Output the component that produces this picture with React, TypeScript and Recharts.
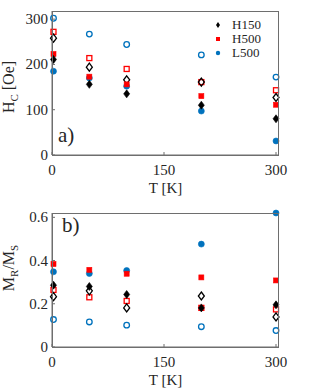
import React from 'react';
import { ScatterChart, Scatter, XAxis, YAxis, Legend } from 'recharts';

// Temperatures (K)
const temperatures = [2, 50, 100, 200, 300];

// Panel a) coercivity H_C [Oe]
const hcH150Filled = [211, 156, 135, 110, 80];
const hcH150Open = [258, 194, 166, 161, 127];
const hcH500Filled = [223, 173, 156, 130, 111];
const hcH500Open = [272, 214, 190, 161, 143];
const hcL500Filled = [185, 170, 152, 97, 31];
const hcL500Open = [302, 267, 244, 221, 172];

// Panel b) squareness M_R/M_S
const mrH150Filled = [0.286, 0.28, 0.243, 0.181, 0.195];
const mrH150Open = [0.233, 0.26, 0.181, 0.236, 0.139];
const mrH500Filled = [0.384, 0.357, 0.339, 0.322, 0.308];
const mrH500Open = [0.264, 0.23, 0.213, 0.181, 0.174];
const mrL500Filled = [0.348, 0.34, 0.354, 0.476, 0.62];
const mrL500Open = [0.127, 0.116, 0.101, 0.094, 0.076];

const xTicks = [0, 150, 300];
const hcTicks = [0, 100, 200, 300];
const mrTicks = [0, 0.2, 0.4, 0.6];
const legendNames = ['H150', 'H500', 'L500'];

const X_DOMAIN: [number, number] = [0, 304];
const HC_DOMAIN: [number, number] = [0, 318];
const MR_DOMAIN: [number, number] = [0, 0.62];

const FONT = "'Liberation Serif', 'Times New Roman', serif";
const AXIS = '#6e6e6e';
const TEXT = '#262626';
const BLACK = '#000000';
const RED = '#ff0000';
const BLUE = '#0072bd';

const toPoints = (ys: number[]) => temperatures.map((x, i) => ({ x, y: ys[i] }));

type Kind = 'diamond' | 'square' | 'circle';

const drawMarker = (kind: Kind, filled: boolean, color: string, cx: number, cy: number) => {
  const fill = filled ? color : 'none';
  const sw = filled ? 0.6 : 1.3;
  if (kind === 'diamond') {
    return (
      <polygon
        points={`${cx},${cy - 4} ${cx + 3},${cy} ${cx},${cy + 4} ${cx - 3},${cy}`}
        fill={filled ? color : 'none'}
        stroke={color}
        strokeWidth={sw}
      />
    );
  }
  if (kind === 'square') {
    return <rect x={cx - 2.5} y={cy - 2.5} width={5} height={5} fill={fill} stroke={color} strokeWidth={sw} />;
  }
  return <circle cx={cx} cy={cy} r={filled ? 3 : 2.8} fill={fill} stroke={color} strokeWidth={sw} />;
};

const shapeFor = (kind: Kind, filled: boolean, color: string) => (props: any) => {
  const { cx, cy } = props;
  if (cx == null || cy == null) return <g />;
  return <g>{drawMarker(kind, filled, color, cx, cy)}</g>;
};

const RotLabel = (props: any) => {
  const { x0, y0, parts } = props;
  return (
    <text
      x={x0}
      y={y0}
      transform={`rotate(-90 ${x0} ${y0})`}
      textAnchor="middle"
      style={{ fontFamily: FONT }}
      fontSize={16}
      fill={TEXT}
    >
      {parts}
    </text>
  );
};

const XLabel = (props: any) => {
  const { viewBox } = props;
  const cx = viewBox.x + viewBox.width / 2;
  return (
    <text x={cx} y={viewBox.y + 38} textAnchor="middle" style={{ fontFamily: FONT }} fontSize={15} fill={TEXT}>
      T [K]
    </text>
  );
};

const XTick = (props: any) => {
  const { x, y, payload } = props;
  return (
    <text x={x} y={y} dy={11} textAnchor="middle" style={{ fontFamily: FONT }} fontSize={15} fill={TEXT}>
      {payload.value}
    </text>
  );
};

const YTick = (props: any) => {
  const { x, y, payload } = props;
  return (
    <text x={x} y={y} dy={5} textAnchor="end" style={{ fontFamily: FONT }} fontSize={15} fill={TEXT}>
      {payload.value}
    </text>
  );
};

const LegendContent = () => (
  <div style={{ fontFamily: FONT, fontSize: 13, color: TEXT }}>
    {legendNames.map((n, i) => {
      const kind: Kind = i === 0 ? 'diamond' : i === 1 ? 'square' : 'circle';
      const color = i === 0 ? BLACK : i === 1 ? RED : BLUE;
      return (
        <div key={n} style={{ height: 14, display: 'flex', alignItems: 'center' }}>
          <svg width={10} height={10} style={{ marginRight: 9 }}>
            {kind === 'diamond' ? (
              <polygon points="5,2 7,5 5,8 3,5" fill={color} />
            ) : kind === 'square' ? (
              <rect x={3} y={3} width={4} height={4} fill={color} />
            ) : (
              <circle cx={5} cy={5} r={2.2} fill={color} />
            )}
          </svg>
          <span style={{ lineHeight: '14px' }}>{n}</span>
        </div>
      );
    })}
  </div>
);

const renderSeries = (
  sets: { data: number[]; kind: Kind; filled: boolean; color: string; name: string }[]
) =>
  sets.map((s, i) => (
    <Scatter
      key={i}
      name={s.name}
      data={toPoints(s.data)}
      shape={shapeFor(s.kind, s.filled, s.color)}
      isAnimationActive={false}
      legendType="none"
    />
  ));

const frameStyle = (top: number, height: number): React.CSSProperties => ({
  position: 'absolute',
  left: 52,
  top,
  width: 227,
  height,
  border: `1px solid ${AXIS}`,
  boxSizing: 'border-box',
  pointerEvents: 'none',
});

export default function App() {
  return (
    <div
      style={{
        position: 'absolute',
        left: 0,
        top: 0,
        width: 310,
        height: 388,
        background: '#fff',
        fontFamily: FONT,
      }}
    >
      <div style={{ position: 'absolute', left: 0, top: 0 }}>
        <ScatterChart width={310} height={196} margin={{ top: 11, right: 31, bottom: 0, left: 0 }}>
          <XAxis
            type="number"
            dataKey="x"
            domain={X_DOMAIN}
            ticks={xTicks}
            height={41}
            tickSize={-3}
            tickMargin={12}
            tick={<XTick />}
            stroke={AXIS}
            label={<XLabel />}
          />
          <YAxis
            type="number"
            dataKey="y"
            domain={HC_DOMAIN}
            ticks={hcTicks}
            width={52}
            tickSize={-3}
            tickMargin={7}
            tick={<YTick />}
            stroke={AXIS}
            label={
              <RotLabel
                x0={14}
                y0={87}
                parts={[
                  <tspan key="a">H</tspan>,
                  <tspan key="b" dy={4} fontSize={11}>C</tspan>,
                  <tspan key="c" dy={-4}> [Oe]</tspan>,
                ]}
              />
            }
          />
          {renderSeries([
            { data: hcL500Open, kind: 'circle', filled: false, color: BLUE, name: 'L500o' },
            { data: hcH500Open, kind: 'square', filled: false, color: RED, name: 'H500o' },
            { data: hcH150Open, kind: 'diamond', filled: false, color: BLACK, name: 'H150o' },
            { data: hcL500Filled, kind: 'circle', filled: true, color: BLUE, name: 'L500' },
            { data: hcH500Filled, kind: 'square', filled: true, color: RED, name: 'H500' },
            { data: hcH150Filled, kind: 'diamond', filled: true, color: BLACK, name: 'H150' },
          ])}
          <Legend
            layout="horizontal"
            verticalAlign="middle"
            align="center"
            content={<LegendContent />}
            wrapperStyle={{ left: 213, top: 18, width: 'auto', height: 'auto' }}
          />
        </ScatterChart>
      </div>
      <div style={{ position: 'absolute', left: 0, top: 196 }}>
        <ScatterChart width={310} height={192} margin={{ top: 17, right: 31, bottom: 0, left: 0 }}>
          <XAxis
            type="number"
            dataKey="x"
            domain={X_DOMAIN}
            ticks={xTicks}
            height={41}
            tickSize={-3}
            tickMargin={12}
            tick={<XTick />}
            stroke={AXIS}
            label={<XLabel />}
          />
          <YAxis
            type="number"
            dataKey="y"
            domain={MR_DOMAIN}
            ticks={mrTicks}
            width={52}
            tickSize={-3}
            tickMargin={7}
            tick={<YTick />}
            stroke={AXIS}
            label={
              <RotLabel
                x0={14}
                y0={72}
                parts={[
                  <tspan key="a">M</tspan>,
                  <tspan key="b" dy={4} fontSize={11}>R</tspan>,
                  <tspan key="c" dy={-4}>/M</tspan>,
                  <tspan key="d" dy={4} fontSize={11}>S</tspan>,
                ]}
              />
            }
          />
          {renderSeries([
            { data: mrL500Open, kind: 'circle', filled: false, color: BLUE, name: 'L500o' },
            { data: mrH500Open, kind: 'square', filled: false, color: RED, name: 'H500o' },
            { data: mrH150Open, kind: 'diamond', filled: false, color: BLACK, name: 'H150o' },
            { data: mrL500Filled, kind: 'circle', filled: true, color: BLUE, name: 'L500' },
            { data: mrH500Filled, kind: 'square', filled: true, color: RED, name: 'H500' },
            { data: mrH150Filled, kind: 'diamond', filled: true, color: BLACK, name: 'H150' },
          ])}
        </ScatterChart>
      </div>
      <div style={frameStyle(11, 145)} />
      <div style={frameStyle(213, 135)} />
      <div
        style={{
          position: 'absolute',
          left: 58,
          top: 124,
          fontFamily: FONT,
          fontSize: 21,
          lineHeight: '22px',
          color: TEXT,
        }}
      >
        a)
      </div>
      <div
        style={{
          position: 'absolute',
          left: 62,
          top: 214,
          fontFamily: FONT,
          fontSize: 21,
          lineHeight: '22px',
          color: TEXT,
        }}
      >
        b)
      </div>
    </div>
  );
}
